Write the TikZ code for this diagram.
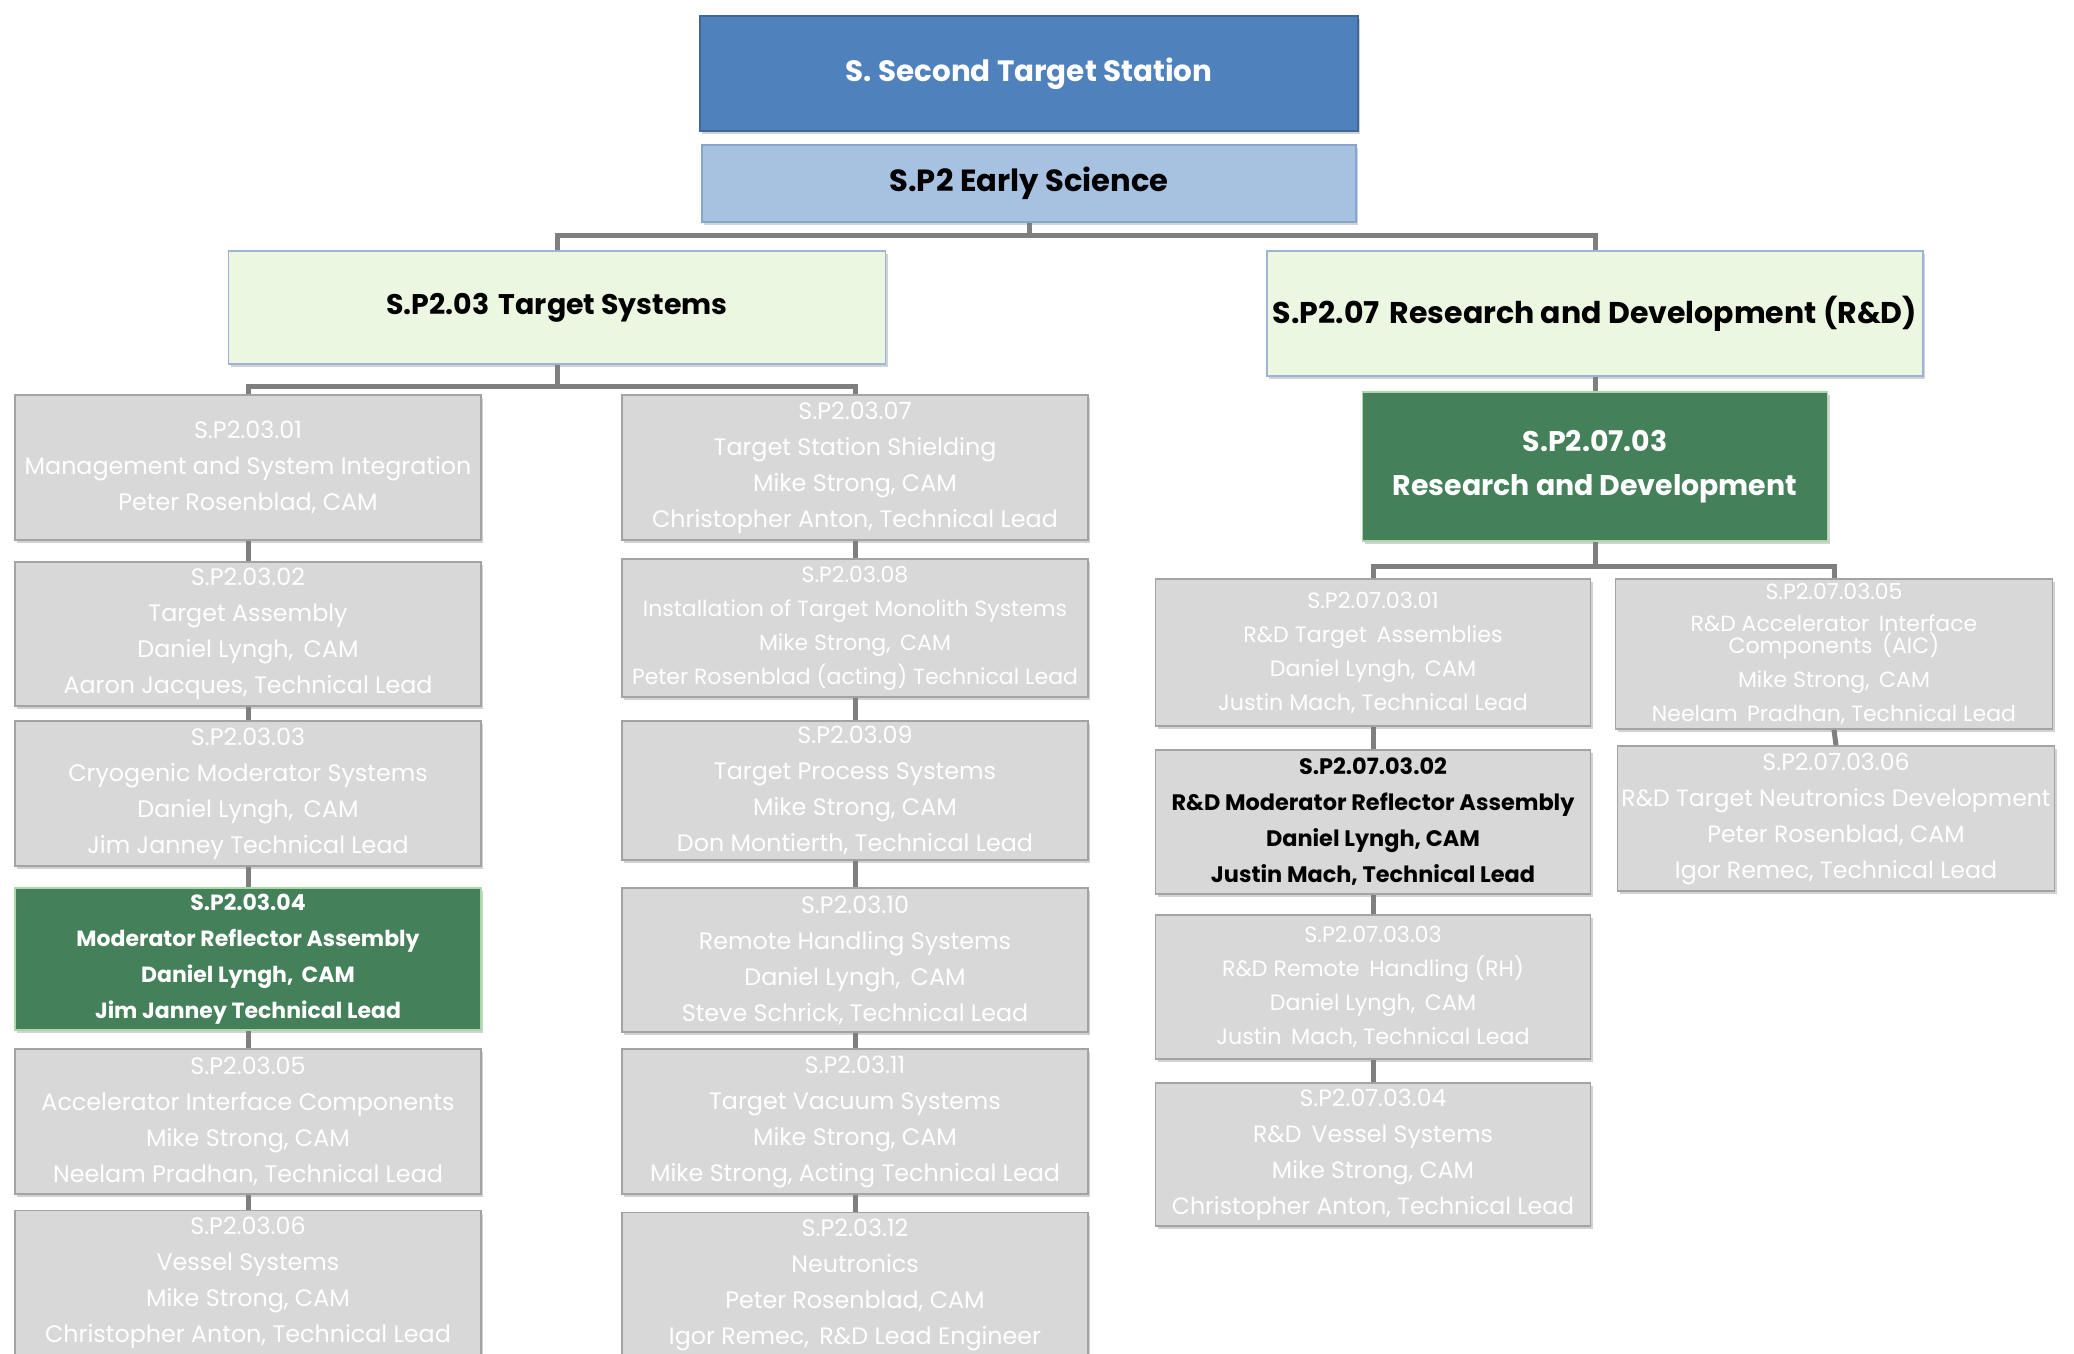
\documentclass[tikz,border=0pt]{standalone}
\usepackage{fontspec}
\setmainfont{Poppins}
\usetikzlibrary{shadows}
\definecolor{topblue}{HTML}{4F81BD}
\definecolor{lightblue}{HTML}{A7C2E1}
\definecolor{palegreen}{HTML}{EBF7E1}
\definecolor{paleborder}{HTML}{9DB4D6}
\definecolor{darkgreen}{HTML}{44805A}
\definecolor{greenborder}{HTML}{A9D9A8}
\definecolor{boxgray}{HTML}{D8D8D8}
\definecolor{boxborder}{HTML}{A3A3A3}
\definecolor{conncol}{HTML}{7F7F7F}
\newcommand{\gfont}{\fontsize{11.9}{18}\selectfont}
\newcommand{\rfont}{\fontsize{11.1}{17}\selectfont}
\begin{document}
\begin{tikzpicture}[x=0.5pt,y=-0.5pt,
  shad/.style={drop shadow={opacity=0.35,shadow xshift=1pt,shadow yshift=-1.5pt}},
  basebox/.style={rectangle,inner sep=0pt,align=center,shad},
  gbox/.style={basebox,fill=boxgray,draw=boxborder,line width=0.8pt,text=white,font=\gfont,minimum width=233pt},
  rbox/.style={gbox,font=\rfont},
  gnbox/.style={basebox,fill=darkgreen,draw=greenborder,line width=0.8pt,text=white},
  l2box/.style={basebox,fill=palegreen,draw=paleborder,line width=0.8pt,font=\fontsize{15}{18}\selectfont\bfseries},
  conn/.style={draw=conncol,line width=2.5pt}]
\useasboundingbox (0,0) rectangle (2074,1354);
\clip (0,0) rectangle (2074,1354);
\fill[white] (0,0) rectangle (2074,1354);
% top levels
\node[basebox,fill=topblue,draw=topblue!80!black,line width=0.8pt,text=white,font=\fontsize{14.7}{20}\selectfont\bfseries,minimum width=329pt,minimum height=57.5pt] (S) at (1029,73.5) {S. Second Target Station};
\node[basebox,fill=lightblue,draw=topblue!70,line width=0.8pt,font=\fontsize{15.3}{20}\selectfont\bfseries,minimum width=327pt,minimum height=38.5pt] (SP2) at (1029,183.5) {S.P2 Early Science};
\node[l2box,font=\fontsize{14.2}{18}\selectfont\bfseries,minimum width=328.5pt,minimum height=56.5pt] (L2L) at (557,307.5) {S.P2.03\,\,Target Systems};
\node[l2box,minimum width=328pt,minimum height=62.5pt] (L2R) at (1595,313.5) {S.P2.07\,\,Research and Development (R\&D)};
\node[gnbox,minimum width=232.5pt,minimum height=74.5pt,font=\fontsize{14.2}{22}\selectfont\bfseries] (RD) at (1595,466.5) {S.P2.07.03\\Research and Development};
% left column
\node[gbox,minimum height=72.5pt] (A1) at (248,467.5) {S.P2.03.01\\Management and System Integration\\Peter Rosenblad, CAM};
\node[gbox,minimum height=72pt] (A2) at (248,634) {S.P2.03.02\\Target Assembly\\Daniel Lyngh,\, CAM\\Aaron Jacques, Technical Lead};
\node[gbox,minimum height=72.5pt] (A3) at (248,793.5) {S.P2.03.03\\Cryogenic Moderator Systems\\Daniel Lyngh,\, CAM\\Jim Janney Technical Lead};
\node[gnbox,minimum width=233pt,minimum height=71pt,font=\fontsize{11}{18}\selectfont\bfseries] (A4) at (248,959) {S.P2.03.04\\Moderator Reflector Assembly\\Daniel Lyngh,\, CAM\\Jim Janney Technical Lead};
\node[gbox,minimum height=72.5pt] (A5) at (248,1121.5) {S.P2.03.05\\Accelerator Interface Components\\Mike Strong, CAM\\Neelam Pradhan, Technical Lead};
\node[gbox,minimum height=72.5pt] (A6) at (248,1283) {S.P2.03.06\\Vessel Systems\\Mike Strong, CAM\\Christopher Anton, Technical Lead};
% right column
\node[gbox,minimum height=72.5pt] (A7) at (855,467.5) {S.P2.03.07\\Target Station Shielding\\Mike Strong, CAM\\Christopher Anton, Technical Lead};
\node[gbox,minimum height=69pt,font=\fontsize{11}{17}\selectfont] (A8) at (855,628) {S.P2.03.08\\Installation of Target Monolith Systems\\Mike Strong,\, CAM\\Peter Rosenblad (acting) Technical Lead};
\node[gbox,minimum height=69.5pt] (A9) at (855,790.5) {S.P2.03.09\\Target Process Systems\\Mike Strong, CAM\\Don Montierth, Technical Lead};
\node[gbox,minimum height=72pt] (A10) at (855,960) {S.P2.03.10\\Remote Handling Systems\\Daniel Lyngh,\, CAM\\Steve Schrick, Technical Lead};
\node[gbox,minimum height=72.5pt] (A11) at (855,1121.5) {S.P2.03.11\\Target Vacuum Systems\\Mike Strong, CAM\\Mike Strong, Acting Technical Lead};
\node[gbox,minimum height=72.5pt] (A12) at (855,1285) {S.P2.03.12\\Neutronics\\Peter Rosenblad, CAM\\Igor Remec,\, R\&D Lead Engineer};
% R&D columns
\node[rbox,minimum width=217.5pt,minimum height=73.5pt] (R1) at (1373,652.5) {S.P2.07.03.01\\R\&D Target\, Assemblies\\Daniel Lyngh,\, CAM\\Justin Mach, Technical Lead};
\node[rbox,text=black,font=\fontsize{11.2}{18}\selectfont\bfseries,minimum width=217.5pt,minimum height=72pt] (R2) at (1373,822) {S.P2.07.03.02\\R\&D Moderator Reflector Assembly\\Daniel Lyngh, CAM\\Justin Mach, Technical Lead};
\node[rbox,minimum width=217.5pt,minimum height=72pt] (R3) at (1373,987) {S.P2.07.03.03\\R\&D Remote\, Handling (RH)\\Daniel Lyngh,\, CAM\\Justin\, Mach, Technical Lead};
\node[rbox,font=\fontsize{11.8}{18}\selectfont,minimum width=217.5pt,minimum height=71.5pt] (R4) at (1373,1154.5) {S.P2.07.03.04\\R\&D\, Vessel Systems\\Mike Strong, CAM\\Christopher Anton, Technical Lead};
\node[rbox,font=\fontsize{11}{17}\selectfont,minimum width=218.5pt,minimum height=75pt] (R5) at (1834,654) {S.P2.07.03.05\\[-1pt]R\&D Accelerator\, Interface\\[-6pt]Components\, (AIC)\\Mike Strong,\, CAM\\Neelam\, Pradhan, Technical Lead};
\node[rbox,font=\fontsize{11.8}{18}\selectfont,minimum width=218.5pt,minimum height=72.5pt] (R6) at (1836,818.5) {S.P2.07.03.06\\R\&D Target Neutronics Development\\Peter Rosenblad, CAM\\Igor Remec, Technical Lead};
% connectors
\coordinate (b0) at (1029,235);
\coordinate (b1) at (557,386);
\coordinate (b2) at (1595,566);
\draw[conn] (SP2.south) -- (b0);
\draw[conn] (L2L.north) |- (b0) -| (L2R.north);
\draw[conn] (L2L.south) -- (b1);
\draw[conn] (A1.north) |- (b1) -| (A7.north);
\draw[conn] (L2R.south) -- (RD.north);
\draw[conn] (RD.south) -- (b2);
\draw[conn] (R1.north) |- (b2) -| (R5.north);
\draw[conn] (A1.south) -- (A2.north);
\draw[conn] (A2.south) -- (A3.north);
\draw[conn] (A3.south) -- (A4.north);
\draw[conn] (A4.south) -- (A5.north);
\draw[conn] (A5.south) -- (A6.north);
\draw[conn] (A7.south) -- (A8.north);
\draw[conn] (A8.south) -- (A9.north);
\draw[conn] (A9.south) -- (A10.north);
\draw[conn] (A10.south) -- (A11.north);
\draw[conn] (A11.south) -- (A12.north);
\draw[conn] (R1.south) -- (R2.north);
\draw[conn] (R2.south) -- (R3.north);
\draw[conn] (R3.south) -- (R4.north);
\draw[conn] (R5.south) -- (R6.north);
\end{tikzpicture}
\end{document}
